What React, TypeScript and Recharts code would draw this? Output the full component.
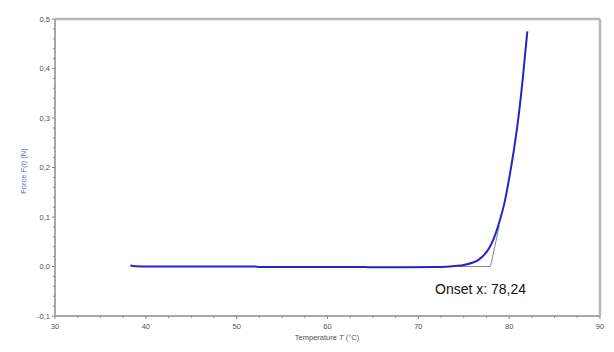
import React from 'react';
import { LineChart, Line, XAxis, YAxis, ReferenceLine } from 'recharts';

// Measured curve: temperature (°C) and force (N)
const temperatures = [38.3, 38.6, 39.0, 40, 45, 50, 52, 52.5, 55, 60, 64, 64.5, 68, 72, 73, 74, 75, 76, 76.5, 77, 77.5, 78, 78.5, 79, 79.5, 80, 80.5, 81, 81.5, 82];
const forces = [0.002, 0.001, 0.0005, 0, 0, 0, 0, -0.0008, -0.0008, -0.0008, -0.0008, -0.0015, -0.0015, -0.0012, -0.0005, 0.001, 0.003, 0.008, 0.012, 0.019, 0.029, 0.044, 0.066, 0.095, 0.13, 0.178, 0.233, 0.298, 0.38, 0.475];

// Onset construction (baseline + tangent)
const tangentT = [72.4, 77.95, 78.9];
const tangentF = [0, 0, 0.082];

const onsetLabel = 'Onset x: 78,24';

const xTicks = [30, 32.5, 35, 37.5, 40, 42.5, 45, 47.5, 50, 52.5, 55, 57.5, 60, 62.5, 65, 67.5, 70, 72.5, 75, 77.5, 80, 82.5, 85, 87.5, 90];
const yTicks = [-0.1, -0.08, -0.06, -0.04, -0.02, 0, 0.02, 0.04, 0.06, 0.08, 0.1, 0.12, 0.14, 0.16, 0.18, 0.2, 0.22, 0.24, 0.26, 0.28, 0.3, 0.32, 0.34, 0.36, 0.38, 0.4, 0.42, 0.44, 0.46, 0.48, 0.5];

const curveData = temperatures.map((t, i) => ({ x: t, y: forces[i] }));
const tangentData = tangentT.map((t, i) => ({ x: t, y: tangentF[i] }));

const AXIS = '#a8a8a8';
const TXT = '#505050';
const FONT = '"Liberation Sans", Arial, sans-serif';

const XTick = (props: any) => {
  const { x, y, payload } = props;
  const v = payload.value;
  const major = Math.abs(v / 10 - Math.round(v / 10)) < 1e-6;
  return (
    <g>
      <line x1={x} x2={x} y1={y} y2={y + (major ? 3 : 2)} stroke="#888" strokeWidth={1} />
      {major && (
        <text x={x} y={y + 13} textAnchor="middle" fontSize={7.5} fill={TXT} fontFamily={FONT}>
          {String(v)}
        </text>
      )}
    </g>
  );
};

const YTick = (props: any) => {
  const { x, y, payload } = props;
  const v = payload.value;
  const major = Math.abs(v * 10 - Math.round(v * 10)) < 1e-6;
  return (
    <g>
      <line x1={x} x2={x - (major ? 3 : 2)} y1={y} y2={y} stroke="#888" strokeWidth={1} />
      {major && (
        <text x={x - 5} y={y + 2.5} textAnchor="end" fontSize={7.5} fill={TXT} fontFamily={FONT}>
          {v.toFixed(1).replace('.', ',')}
        </text>
      )}
    </g>
  );
};

export default function App() {
  return (
    <div style={{ position: 'absolute', left: 0, top: 0, width: 614, height: 352, background: '#fff' }}>
      <LineChart width={614} height={352} margin={{ top: 19, right: 14, bottom: 0, left: 0 }}>
        <XAxis
          dataKey="x"
          type="number"
          domain={[30, 90]}
          ticks={xTicks}
          interval={0}
          allowDataOverflow
          height={36}
          tickSize={0}
          tickMargin={0}
          tickLine={false}
          tick={<XTick />}
          axisLine={{ stroke: AXIS, strokeWidth: 2 }}
        />
        <YAxis
          type="number"
          domain={[-0.1, 0.5]}
          ticks={yTicks}
          interval={0}
          allowDataOverflow
          width={55}
          tickSize={0}
          tickMargin={0}
          tickLine={false}
          tick={<YTick />}
          axisLine={{ stroke: AXIS, strokeWidth: 2 }}
        />
        <ReferenceLine y={0.5} stroke="#b8b8b8" strokeWidth={2.5} />
        <ReferenceLine x={90} stroke="#b8b8b8" strokeWidth={2.5} />
        <Line
          data={tangentData}
          dataKey="y"
          stroke="#8a8a8a"
          strokeWidth={1}
          dot={false}
          activeDot={false}
          isAnimationActive={false}
        />
        <Line
          data={curveData}
          dataKey="y"
          type="monotone"
          stroke="#2424c8"
          strokeWidth={2}
          dot={false}
          activeDot={false}
          isAnimationActive={false}
        />
      </LineChart>
      <div
        style={{
          position: 'absolute',
          left: 327,
          top: 333,
          transform: 'translateX(-50%)',
          whiteSpace: 'nowrap',
          fontFamily: FONT,
          fontSize: 7.5,
          color: TXT,
        }}
      >
        Temperature <i>T</i> (°C)
      </div>
      <div
        style={{
          position: 'absolute',
          left: 23,
          top: 171,
          transform: 'translate(-50%, -50%) rotate(-90deg)',
          whiteSpace: 'nowrap',
          fontFamily: FONT,
          fontSize: 7.5,
          color: '#6060e8',
        }}
      >
        Force <i>F(t)</i> (N)
      </div>
      <div
        style={{
          position: 'absolute',
          left: 435,
          top: 281,
          whiteSpace: 'nowrap',
          fontFamily: FONT,
          fontSize: 14,
          color: '#111',
        }}
      >
        {onsetLabel}
      </div>
    </div>
  );
}
